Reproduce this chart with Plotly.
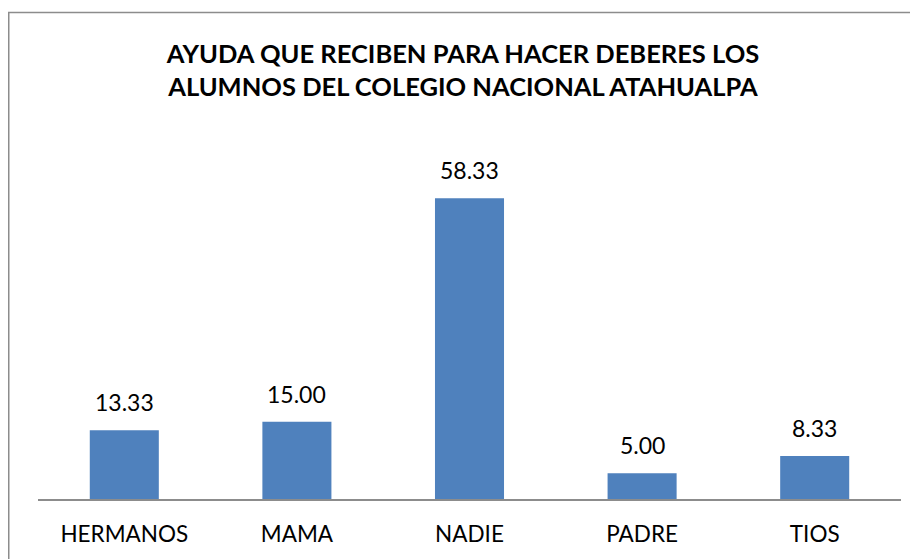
import plotly.graph_objects as go

categories = ["HERMANOS", "MAMA", "NADIE", "PADRE", "TIOS"]
values = [13.33, 15.00, 58.33, 5.00, 8.33]
value_labels = ["13.33", "15.00", "58.33", "5.00", "8.33"]
title_lines = ["AYUDA QUE RECIBEN PARA HACER DEBERES LOS",
               "ALUMNOS DEL COLEGIO NACIONAL ATAHUALPA"]

# page has an 8px body margin; figure sized to fit the window
W, H = 910, 551
L, R, T, B = 30, 17, 130, 60
pw, ph = W - L - R, H - T - B

fig = go.Figure(go.Bar(
    x=categories, y=values,
    marker=dict(color="#4F81BD", line=dict(width=0)),
    width=0.4,
))

for c, v, lab in zip(categories, values, value_labels):
    fig.add_annotation(x=c, y=v, text=lab, showarrow=False,
                       xref="x", yref="y", yanchor="bottom", yshift=12,
                       font=dict(family="Lato", size=23, color="#000000"))

def px_to_paper_x(px):
    return (px - L) / pw

def py_to_paper_y(py):
    return (H - B - py) / ph

# chart border (extends past right/bottom edges as in the reference)
fig.add_shape(type="rect", xref="paper", yref="paper",
              x0=px_to_paper_x(0.75), x1=px_to_paper_x(960),
              y0=py_to_paper_y(600), y1=py_to_paper_y(4.5),
              line=dict(color="#8C8C8C", width=1.5), fillcolor="rgba(0,0,0,0)")

fig.update_layout(
    width=W, height=H,
    margin=dict(l=L, r=R, t=T, b=B, pad=0),
    paper_bgcolor="white", plot_bgcolor="white",
    showlegend=False,
    title=dict(text="<br>".join(title_lines), x=0.5, xanchor="center",
               y=1 - 55 / H, yanchor="middle",
               font=dict(family="Lato", size=25.5, color="#000000", weight="bold")),
    xaxis=dict(showline=True, linecolor="#8C8C8C", linewidth=1.5,
               showgrid=False, zeroline=False,
               ticks="outside", ticklen=14, tickcolor="rgba(0,0,0,0)",
               tickfont=dict(family="Lato", size=22.5, color="#000000")),
    yaxis=dict(range=[0, 70], visible=False, showgrid=False, zeroline=False),
)

fig.write_html("out.html")
